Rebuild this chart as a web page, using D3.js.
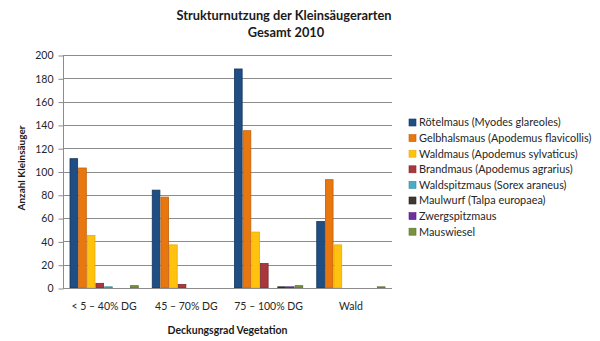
<!DOCTYPE html>
<html>
<head>
<meta charset="utf-8">
<script src="https://cdn.jsdelivr.net/npm/d3@7"></script>
<style>
  html, body { margin: 0; padding: 0; background: #fff; }
  svg { display: block; font-family: Lato, "Open Sans", sans-serif; }
</style>
</head>
<body>
<svg id="chart" width="600" height="341"></svg>
<script>
// Habitat classes (vegetation cover)
const categories = ["< 5 – 40% DG", "45 – 70% DG", "75 – 100% DG", "Wald"];

// Species in legend order
const species = [
  "Rötelmaus (Myodes glareoles)",
  "Gelbhalsmaus (Apodemus flavicollis)",
  "Waldmaus (Apodemus sylvaticus)",
  "Brandmaus (Apodemus agrarius)",
  "Waldspitzmaus (Sorex araneus)",
  "Maulwurf (Talpa europaea)",
  "Zwergspitzmaus",
  "Mauswiesel"
];

// Counts per species, one value per habitat class
const roetelmaus      = [111, 84, 188, 57];
const gelbhalsmaus    = [103, 78, 135, 93];
const waldmaus        = [45, 37, 48, 37];
const brandmaus       = [4, 3, 21, 0];
const waldspitzmaus   = [1, 0, 0, 0];
const maulwurf        = [0, 0, 1, 0];
const zwergspitzmaus  = [0, 0, 1, 0];
const mauswiesel      = [2, 0, 2, 1];

const yTicks = [0, 20, 40, 60, 80, 100, 120, 140, 160, 180, 200];

const seriesValues = [roetelmaus, gelbhalsmaus, waldmaus, brandmaus,
                      waldspitzmaus, maulwurf, zwergspitzmaus, mauswiesel];
const fills   = ["#1f4e85", "#e8770f", "#ffc20e", "#a8383b", "#4bacc6", "#40382e", "#7030a0", "#77933c"];
const strokes = ["#16365d", "#c0600a", "#e6ac00", "#7f2a2c", "#35899e", "#262626", "#53247a", "#5a7030"];

const svg = d3.select("#chart");
const plot = { left: 63, right: 392, top: 55, bottom: 288 };

const x0 = d3.scaleBand().domain(categories).range([plot.left, plot.right]).paddingInner(0).paddingOuter(0);
// 150% gap between groups, split over both sides of each group
const x1 = d3.scaleBand().domain(d3.range(species.length))
  .range([0, x0.bandwidth()]).paddingInner(0).paddingOuter(0.75);
const y = d3.scaleLinear().domain([0, 200]).range([plot.bottom, plot.top]);

// Horizontal gridlines
svg.append("g").selectAll("line").data(yTicks.filter(d => d > 0)).join("line")
  .attr("x1", plot.left).attr("x2", plot.right)
  .attr("y1", d => Math.round(y(d)) + 0.5).attr("y2", d => Math.round(y(d)) + 0.5)
  .attr("stroke", "#8c8c8c").attr("stroke-width", 1);

// Y axis
const yAxis = d3.axisLeft(y).tickValues(yTicks).tickSize(5).tickPadding(5);
const gy = svg.append("g").attr("transform", `translate(${plot.left + 0.5},0.5)`).call(yAxis);
gy.select(".domain").attr("stroke", "#8c8c8c").attr("d", `M0,${y(200) - 0.5}V${y(0) - 0.5}`);
gy.selectAll(".tick line").attr("stroke", "#8c8c8c");
gy.selectAll(".tick text").attr("font-size", 10.5).attr("fill", "#262626")
  .attr("font-family", "Lato, 'Open Sans', sans-serif");

// Bars
const groups = svg.append("g").selectAll("g").data(categories).join("g")
  .attr("transform", d => `translate(${x0(d)},0)`);
groups.selectAll("rect")
  .data((c, ci) => seriesValues.map((vals, si) => ({ si, v: vals[ci] })))
  .join("rect")
  .attr("x", d => x1(d.si) + 0.5)
  .attr("width", x1.bandwidth() - 1)
  .attr("y", d => y(d.v))
  .attr("height", d => Math.max(0, y(0) - y(d.v)))
  .attr("fill", d => fills[d.si])
  .attr("stroke", d => d.v > 0 ? strokes[d.si] : "none")
  .attr("stroke-width", 0.8);

// X axis line
svg.append("line")
  .attr("x1", plot.left).attr("x2", plot.right)
  .attr("y1", plot.bottom + 0.5).attr("y2", plot.bottom + 0.5)
  .attr("stroke", "#8c8c8c");

// Category labels
const xAxis = d3.axisBottom(x0).tickSize(0).tickPadding(15);
const gx = svg.append("g").attr("transform", `translate(0,${plot.bottom})`).call(xAxis);
gx.select(".domain").remove();
gx.selectAll(".tick text").attr("font-size", 10.5).attr("fill", "#262626")
  .attr("font-family", "Lato, 'Open Sans', sans-serif");

// Titles
svg.append("text").attr("x", 284).attr("y", 20).attr("text-anchor", "middle")
  .attr("font-size", 12.8).attr("font-weight", "bold").attr("fill", "#1a1a1a")
  .text("Strukturnutzung der Kleinsäugerarten");
svg.append("text").attr("x", 286).attr("y", 37).attr("text-anchor", "middle")
  .attr("font-size", 12.8).attr("font-weight", "bold").attr("fill", "#1a1a1a")
  .text("Gesamt 2010");

svg.append("text").attr("x", (plot.left + plot.right) / 2).attr("y", 334).attr("text-anchor", "middle")
  .attr("font-size", 10.5).attr("font-weight", "bold").attr("fill", "#1a1a1a")
  .text("Deckungsgrad Vegetation");

svg.append("text").attr("transform", "translate(25,168) rotate(-90)").attr("text-anchor", "middle")
  .attr("font-size", 10).attr("font-weight", "bold").attr("fill", "#1a1a1a")
  .text("Anzahl Kleinsäuger");

// Legend
const legend = svg.append("g").selectAll("g").data(species).join("g")
  .attr("transform", (d, i) => `translate(409,${122.5 + i * 15.6})`);
legend.append("rect").attr("x", 0).attr("y", -3.5).attr("width", 7).attr("height", 7)
  .attr("fill", (d, i) => fills[i]).attr("stroke", (d, i) => strokes[i]).attr("stroke-width", 0.6);
legend.append("text").attr("x", 10).attr("y", 0).attr("dy", "0.35em")
  .attr("font-size", 10.9).attr("fill", "#262626").text(d => d);
</script>
</body>
</html>
